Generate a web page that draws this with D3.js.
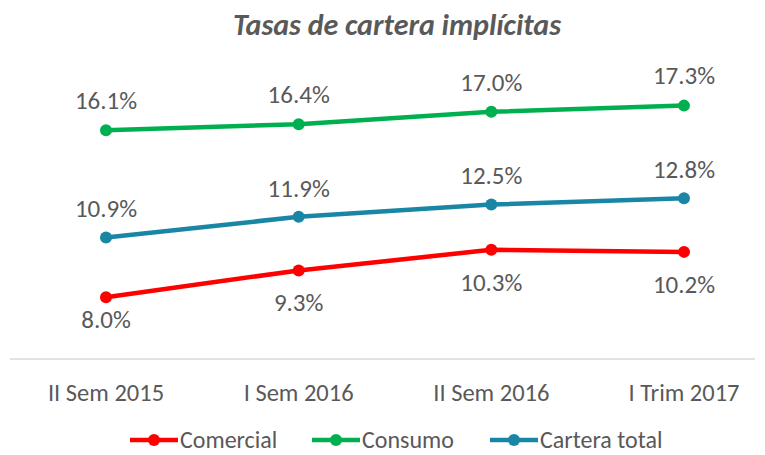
<!DOCTYPE html>
<html>
<head>
<meta charset="utf-8">
<script src="https://cdn.jsdelivr.net/npm/d3@7"></script>
<style>
  body { margin: 0; background: #fff; }
  text { font-family: Carlito, "Open Sans", sans-serif; fill: #595959; }
</style>
</head>
<body>
<div id="chart"></div>
<script>
var categories = ["II Sem 2015", "I Sem 2016", "II Sem 2016", "I Trim 2017"];
var comercial = [8.0, 9.3, 10.3, 10.2];
var consumo = [16.1, 16.4, 17.0, 17.3];
var carteraTotal = [10.9, 11.9, 12.5, 12.8];

var width = 765,
    height = 455;

var series = [
    {name: "Comercial", values: comercial, color: "#ff0000", labelDy: 32},
    {name: "Consumo", values: consumo, color: "#00b050", labelDy: -30},
    {name: "Cartera total", values: carteraTotal, color: "#1a86a5", labelDy: -29}
];

var svg = d3.select("#chart").append("svg")
    .attr("width", width)
    .attr("height", height);

var x = d3.scalePoint()
    .domain(categories)
    .range([106, 684]);

// 1 pct ~ 20.6 px
var y = d3.scaleLinear()
    .domain([5, 20])
    .range([359, 50]);

svg.append("text")
    .attr("x", 397)
    .attr("y", 35)
    .attr("text-anchor", "middle")
    .style("font-size", "30px")
    .style("font-weight", "bold")
    .style("font-style", "italic")
    .text("Tasas de cartera implícitas");

// axis baseline
svg.append("line")
    .attr("x1", 10)
    .attr("x2", 755)
    .attr("y1", y(5))
    .attr("y2", y(5))
    .style("stroke", "#d9d9d9")
    .style("stroke-width", 1.3);

svg.selectAll(".xlab")
    .data(categories)
    .enter().append("text")
    .attr("class", "xlab")
    .attr("x", function (d) { return x(d); })
    .attr("y", 392)
    .attr("dy", "0.35em")
    .attr("text-anchor", "middle")
    .style("font-size", "24.5px")
    .text(function (d) { return d; });

var line = d3.line()
    .x(function (d, i) { return x(categories[i]); })
    .y(function (d) { return y(d); });

series.forEach(function (s) {
    var g = svg.append("g");
    g.append("path")
        .attr("d", line(s.values))
        .style("fill", "none")
        .style("stroke", s.color)
        .style("stroke-width", 4.5)
        .style("stroke-linejoin", "round");
    g.selectAll("circle")
        .data(s.values)
        .enter().append("circle")
        .attr("cx", function (d, i) { return x(categories[i]); })
        .attr("cy", function (d) { return y(d); })
        .attr("r", 6)
        .style("fill", s.color);
    g.selectAll("text")
        .data(s.values)
        .enter().append("text")
        .attr("x", function (d, i) { return x(categories[i]); })
        .attr("y", function (d, i) {
            // first comercial label sits a bit closer (as in original)
            var dy = s.labelDy;
            if (s.name == "Comercial" && i == 0) dy = 22;
            return y(d) + dy;
        })
        .attr("dy", "0.35em")
        .attr("text-anchor", "middle")
        .style("font-size", "25px")
        .text(function (d) { return d.toFixed(1) + "%"; });
});

// legend
var legendX = [130, 312, 490];
var leg = svg.selectAll(".leg")
    .data(series)
    .enter().append("g")
    .attr("class", "leg")
    .attr("transform", function (d, i) { return "translate(" + legendX[i] + ",440)"; });

leg.append("line")
    .attr("x1", 0)
    .attr("x2", 48)
    .style("stroke", function (d) { return d.color; })
    .style("stroke-width", 4.5);

leg.append("circle")
    .attr("cx", 24)
    .attr("r", 6)
    .style("fill", function (d) { return d.color; });

leg.append("text")
    .attr("x", 50)
    .attr("y", 8)
    .style("font-size", "24px")
    .text(function (d) { return d.name; });
</script>
</body>
</html>
